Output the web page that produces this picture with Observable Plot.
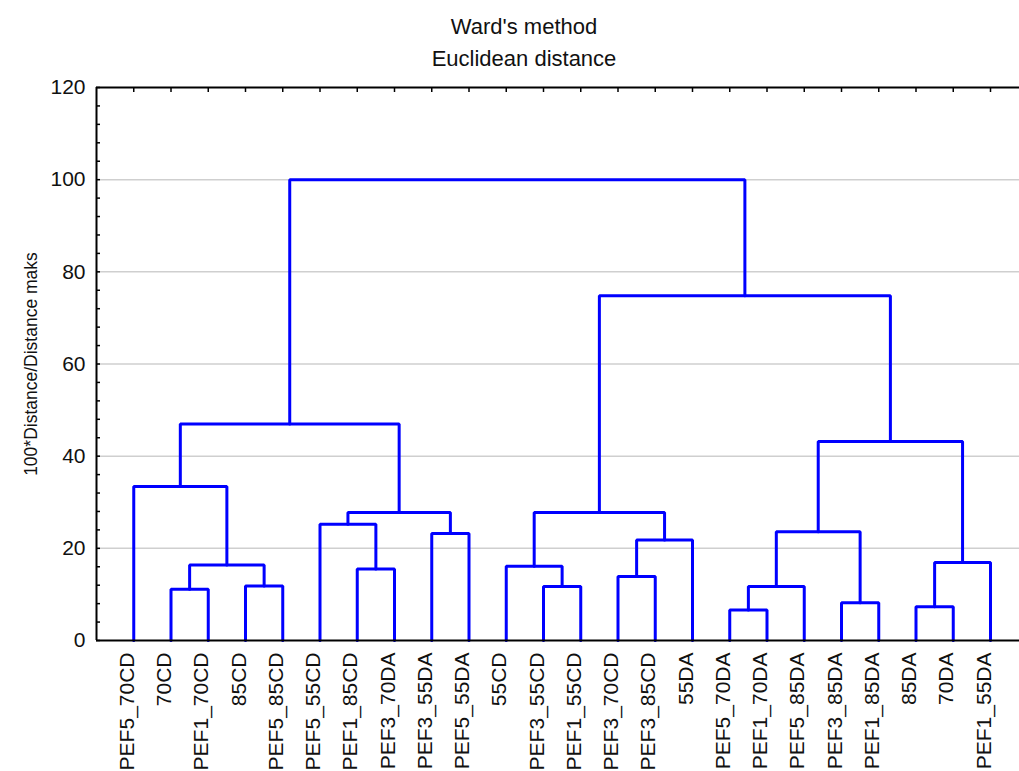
<!DOCTYPE html>
<html>
<head>
<meta charset="utf-8">
<script src="https://cdn.jsdelivr.net/npm/d3@7"></script>
<script src="https://cdn.jsdelivr.net/npm/@observablehq/plot@0.6"></script>
<style>
  body { margin: 0; background: #fff; overflow: hidden; font-family: "Liberation Sans", Arial, sans-serif; }
  #title { position: relative; height: 75px; width: 1019px; }
  #title div { position: absolute; left: 0; width: 1048px; text-align: center; font-size: 22px; line-height: 25px; color: #111; }
</style>
</head>
<body>
<div id="title">
  <div style="top:14px">Ward's method</div>
  <div style="top:46px">Euclidean distance</div>
</div>
<div id="chart"></div>
<script>
// Leaf order along the x axis
const leaves = [
  "PEF5_70CD", "70CD", "PEF1_70CD", "85CD", "PEF5_85CD",
  "PEF5_55CD", "PEF1_85CD", "PEF3_70DA", "PEF3_55DA", "PEF5_55DA",
  "55CD", "PEF3_55CD", "PEF1_55CD", "PEF3_70CD", "PEF3_85CD", "55DA",
  "PEF5_70DA", "PEF1_70DA", "PEF5_85DA", "PEF3_85DA", "PEF1_85DA",
  "85DA", "70DA", "PEF1_55DA"
];

// Agglomeration steps: each joins two nodes (leaf labels or earlier steps "m<i>")
const merges = [
  ["70CD", "PEF1_70CD"],      // m0
  ["85CD", "PEF5_85CD"],      // m1
  ["m0", "m1"],               // m2
  ["PEF5_70CD", "m2"],        // m3
  ["PEF1_85CD", "PEF3_70DA"], // m4
  ["PEF5_55CD", "m4"],        // m5
  ["PEF3_55DA", "PEF5_55DA"], // m6
  ["m5", "m6"],               // m7
  ["m3", "m7"],               // m8
  ["PEF3_55CD", "PEF1_55CD"], // m9
  ["55CD", "m9"],             // m10
  ["PEF3_70CD", "PEF3_85CD"], // m11
  ["m11", "55DA"],            // m12
  ["m10", "m12"],             // m13
  ["PEF5_70DA", "PEF1_70DA"], // m14
  ["m14", "PEF5_85DA"],       // m15
  ["PEF3_85DA", "PEF1_85DA"], // m16
  ["m15", "m16"],             // m17
  ["85DA", "70DA"],           // m18
  ["m18", "PEF1_55DA"],       // m19
  ["m17", "m19"],             // m20
  ["m13", "m20"],             // m21
  ["m8", "m21"]               // m22
];

// Linkage distance (100*Distance/Distance maks) of each step
const heights = [
  11.1, 11.8, 16.4, 33.4, 15.5, 25.2, 23.2, 27.8, 47.0,
  11.7, 16.1, 13.9, 21.8, 27.8,
  6.6, 11.7, 8.2, 23.6, 7.3, 16.9, 43.2, 74.8, 100
];

const yTicks = [0, 20, 40, 60, 80, 100, 120];
const gridValues = [20, 40, 60, 80, 100];
const minorTicks = d3.range(0, 121, 4);
const yLabel = "100*Distance/Distance maks";

// Build the dendrogram elbows: child A up, across, down to child B
const nodes = new Map(leaves.map((name, i) => [name, {x: i + 1, h: 0}]));
const elbows = [];
merges.forEach(([a, b], i) => {
  const A = nodes.get(a), B = nodes.get(b), h = heights[i];
  elbows.push(
    {step: i, x: A.x, y: A.h},
    {step: i, x: A.x, y: h},
    {step: i, x: B.x, y: h},
    {step: i, x: B.x, y: B.h}
  );
  nodes.set("m" + i, {x: (A.x + B.x) / 2, h});
});
const leafPos = leaves.map((_, i) => i + 1);

const width = 1019, marginLeft = 96, marginTop = 12, marginBottom = 131, height = 696;
const frameW = width - marginLeft, frameH = height - marginTop - marginBottom;

const chart = Plot.plot({
  width, height, marginLeft, marginRight: 0, marginTop, marginBottom,
  style: {fontFamily: "'Liberation Sans', Arial, sans-serif", fontSize: "21px", color: "#111", background: "white"},
  x: {domain: [0, frameW / 37.25], axis: null},
  y: {domain: [0, 120]},
  marks: [
    Plot.ruleY(gridValues, {stroke: "#cfcfcf", strokeWidth: 1.5}),
    Plot.line(elbows, {x: "x", y: "y", z: "step", stroke: "#0000ff", strokeWidth: 3, strokeLinejoin: "miter"}),
    Plot.ruleY([0, 120], {stroke: "#000", strokeWidth: 2}),
    Plot.ruleX([0], {stroke: "#000", strokeWidth: 2}),
    Plot.tickY(minorTicks, {insetRight: frameW - 4, stroke: "#000", strokeWidth: 1.5}),
    Plot.tickX(leafPos, {insetBottom: frameH - 5, stroke: "#000", strokeWidth: 1.5}),
    Plot.axisY({ticks: yTicks, tickSize: 0, tickPadding: 11, fontSize: 21, label: null}),
    Plot.text([yLabel], {frameAnchor: "left", textAnchor: "middle", dx: -65, rotate: -90, fontSize: 17.5, fill: "#111"}),
    Plot.text(leaves, {x: (d, i) => i + 1, frameAnchor: "bottom", dy: 12, rotate: -90, textAnchor: "end", fontSize: 21, fill: "#111"})
  ]
});
document.getElementById("chart").appendChild(chart);
</script>
</body>
</html>
